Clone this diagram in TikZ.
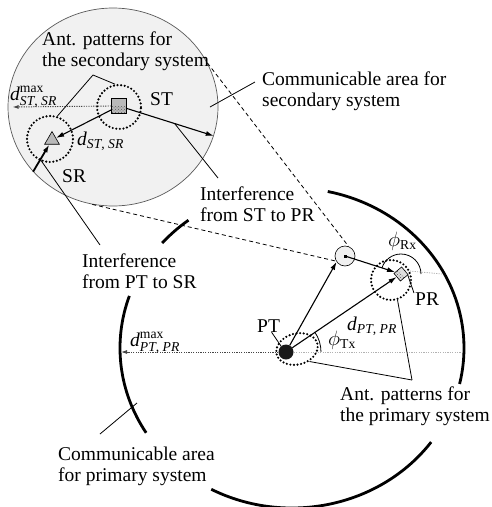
\documentclass[tikz,border=0pt]{standalone}
\usepackage{amsmath}
\usepackage{fontspec}
\setmainfont{Liberation Serif}
\usetikzlibrary{arrows.meta, positioning, shapes.geometric, patterns, calc}

\begin{document}
\begin{tikzpicture}[
    x=1pt, y=-1pt,
    >={Latex[length=8pt,width=5pt]},
    txt/.style = {font=\fontsize{19.5}{20.5}\selectfont, inner sep=0pt, align=left},
    area/.style = {ellipse, draw=gray!70!black, line width=0.7pt, fill=gray!11, inner sep=0pt},
    ring/.style = {draw, line width=2.4pt, dash pattern=on 0pt off 3.6pt, line cap=round, inner sep=0pt},
    signal/.style = {->, line width=1.1pt},
    maxline/.style = {->, gray!55!black, line width=0.9pt, dash pattern=on 1.2pt off 1.2pt, >={Latex[length=6pt,width=4pt]}},
    refline/.style = {gray!60, line width=0.8pt, dash pattern=on 1.2pt off 1.2pt},
    pointer/.style = {line width=0.8pt},
    zoomline/.style = {line width=0.8pt, dash pattern=on 4pt off 3pt},
    boundary/.style = {line width=2.8pt},
    dotfill/.style = {path picture={\fill[pattern=crosshatch dots, pattern color=gray!70!black] (path picture bounding box.west) rectangle (path picture bounding box.south east);}}
]
    \useasboundingbox (0,0) rectangle (491,507);

    % secondary system
    \node [area, minimum width=210pt, minimum height=198pt] (secarea) at (113,107) {};
    \node [ring, circle, minimum size=44pt] (stcirc) at (119,107) {};
    \node [ring, circle, minimum size=46pt] (srcirc) at (50,139) {};
    \node [rectangle, draw, line width=0.6pt, minimum size=15pt, inner sep=0pt, fill=gray!55, dotfill] (ST) at (119,106) {};
    \node [regular polygon, regular polygon sides=3, draw, line width=0.6pt, fill=gray!55, minimum size=17pt, inner sep=0pt] (SR) at (52,140) {};

    % primary system
    \node [circle, fill=gray!20!black, minimum size=15pt, inner sep=0pt] (PT) at (286,352) {};
    \node [ring, ellipse, minimum width=42pt, minimum height=31pt, rotate=15] (ptring) at (297,349) {};
    \node [rectangle, draw, line width=0.6pt, fill=gray!25, minimum size=10pt, inner sep=0pt, rotate=40, dotfill] (PR) at (401,274) {};
    \node [ring, circle, minimum size=40pt] (prcirc) at (391,280) {};
    \node [circle, draw, line width=0.6pt, fill=gray!12, minimum size=20pt, inner sep=0pt] (zoomspot) at (345,256) {};
    \node [fill, minimum size=3pt, inner sep=0pt] (spotdot) at (zoomspot.center) {};

    \coordinate (primc) at (292,348);
    \foreach \a/\b in {-78/13, 36/118, 148/199, 221/233}
        \draw [boundary] ($(primc)+(\a:172 and 160)$) arc [start angle=\a, end angle=\b, x radius=172, y radius=160];

    \draw [zoomline] (secarea.25) -- (zoomspot.70);
    \draw [zoomline] (secarea.-102) -- (zoomspot.210);

    \draw [maxline] (ST.west) -- ([xshift=5pt]secarea.west);
    \draw [signal] (ST) -- (SR);
    \draw [signal] (ST) -- coordinate[pos=0.55] (stpr) (secarea.-16);
    \draw [signal, line width=1.8pt] (secarea.-141) -- coordinate[pos=0.45] (ptsr) (SR);

    \coordinate (ptmax) at (121,352);
    \coordinate (txref) at (461,352);
    \coordinate (rxref) at (442,274);
    \draw [signal] (PT) -- (zoomspot.215);
    \draw [signal] (zoomspot.center) -- (PR);
    \draw [signal] (PT) -- (PR);
    \draw [maxline] (PT.west) -- (ptmax);
    \draw [refline] (PT.east) -- (txref);
    \draw [refline] (PR.east) -- (rxref);
    \draw [pointer] ([shift={(0:35)}]PT.center) arc [start angle=0, end angle=-35, radius=35];
    \draw [pointer] ([shift={(0:20)}]PR.center) arc [start angle=0, end angle=-163, radius=20];

    % texts
    \node [txt, anchor=north west] (antsec) at (42,32) {Ant. patterns for\\the secondary system};
    \node [txt, anchor=north west] (commsec) at (262,72) {Communicable area for\\secondary system};
    \node [txt, anchor=north west] (intst) at (200,187) {Interference\\from ST to PR};
    \node [txt, anchor=north west] (intpt) at (82,254) {Interference\\from PT to SR};
    \node [txt, anchor=north west] (antprim) at (340,387) {Ant. patterns for\\the primary system};
    \node [txt, anchor=north west] (commprim) at (58,447) {Communicable area\\for primary system};

    \node [txt, anchor=base west] (stlab) at (150,105) {ST};
    \node [txt, anchor=base west] (srlab) at (62,182) {SR};
    \node [txt, anchor=base west] (ptlab) at (257,332) {PT};
    \node [txt, anchor=base west] (prlab) at (415,305) {PR};
    \node [txt, anchor=base west] (dmaxst) at (10,100) {$\textit{d}^{\mathrm{max}}_{\textit{ST}\textrm{, }\textit{SR}}$};
    \node [txt, anchor=base west] (dst) at (77,145) {$\textit{d}_{\textit{ST}\textrm{, }\textit{SR}}$};
    \node [txt, anchor=base west] (dmaxpt) at (130,346) {$\textit{d}^{\mathrm{max}}_{\textit{PT}\textrm{, }\textit{PR}}$};
    \node [txt, anchor=base west] (dpt) at (347,330) {$\textit{d}_{\textit{PT}\textrm{, }\textit{PR}}$};
    \node [txt, anchor=base west] (phitx) at (328,345) {$\phi_{\mathrm{Tx}}$};
    \node [txt, anchor=base west] (phirx) at (388,246) {$\phi_{\mathrm{Rx}}$};

    % pointers
    \coordinate (antsecapex) at (93,75);
    \coordinate (antprimapex) at (412,380);
    \coordinate (commsecend) at (210,107);
    \coordinate (commprimend) at (137,403);
    \draw [pointer] (antsecapex) -- (stcirc.100);
    \draw [pointer] (antsecapex) -- (srcirc.72);
    \draw [pointer] ([shift={(-7,10)}]commsec.north west) -- (commsecend);
    \draw [pointer] ([shift={(18,-9)}]intst.north west) -- (stpr);
    \draw [pointer] ([shift={(18,-9)}]intpt.north west) -- (ptsr);
    \draw [pointer] (antprimapex) -- (prcirc.-72);
    \draw [pointer] (antprimapex) -- (ptring.-60);
    \draw [pointer] ([shift={(42,-13)}]commprim.north west) -- (commprimend);
    \draw [pointer] ([xshift=3pt]ptlab.south) -- (PT.130);
    \draw [pointer] (PR.-50) -- ([shift={(-1,1)}]prlab.north west);
\end{tikzpicture}
\end{document}
